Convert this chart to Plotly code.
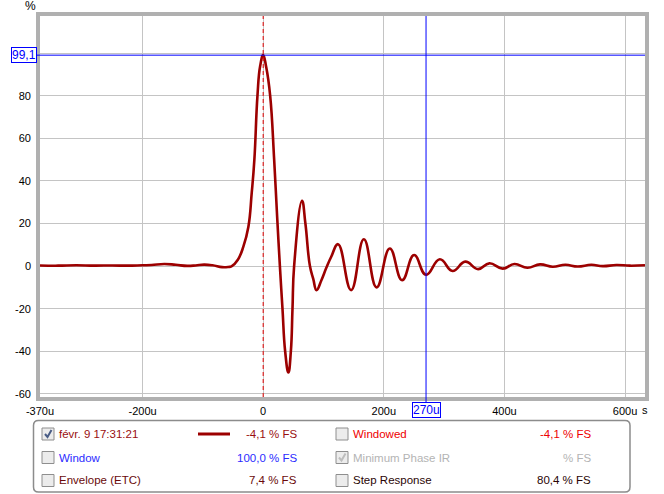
import plotly.graph_objects as go

# ---------------- data ----------------
time_us = [-370, -340, -310, -280, -250, -225, -200, -185, -164, -145, -126, -112, -98, -84,
           -68, -58, -52, -42, -33, -24.5, -19, -14.6, -9.5, -5, 0, 5, 11.6, 18.2, 23, 27.7,
           32, 36.4, 41.8, 45.9, 48.6, 51.3, 64.4, 70, 77.5, 83, 88.4, 96.7, 104.7,
           113, 124.2, 145.8, 166.9, 188, 209.9, 230.3,
           250.2, 270, 292.8, 314, 335, 356.3, 375, 397, 416.5, 438, 459, 480,
           501, 521.5, 544, 563, 585.6, 608, 633]
amp_pct = [0.3, 0.2, 0.4, 0.2, 0.3, 0.2, 0.4, 0.5, 1.0, 0.6, 0.1, 0.3, 0.7, 0.4,
           -0.5, -0.4, 0.0, 3, 9, 18.5, 34.4, 50, 80, 94, 99.1, 93.5, 80, 50, 24, 0,
           -20, -40, -50, -40, -20, 0, 30.7, 20, 0, -6, -11.3, -6.5, -0.8,
           4.5, 10.3, -11.3, 12.6, -10, 8.3, -6.6,
           5.2, -4.1, 3.2, -2.3, 2.1, -1.4, 1.3, -1.2, 1.0, -0.8, 0.8, -0.3,
           0.6, -0.2, 0.6, 0.0, 0.5, 0.2, 0.4]

x_range = [-370, 633]
y_range = [-61.5, 117.5]
x_tick_vals = [-370, -200, 0, 200, 400, 600]
x_tick_text = ["-370u", "-200u", "0", "200u", "400u", "600u"]
y_tick_vals = [-60, -40, -20, 0, 20, 40, 60, 80, 100]
y_tick_text = ["-60", "-40", "-20", "0", "20", "40", "60", "80", ""]

cursor_x = 270
cursor_x_text = "270u"
cursor_y = 99.1
cursor_y_text = "99,1"

# legend panel content (col, row)
legend_labels = [["févr. 9 17:31:21", "Window", "Envelope (ETC)"],
                 ["Windowed", "Minimum Phase IR", "Step Response"]]
legend_values = [["-4,1 % FS", "100,0 % FS", "7,4 % FS"],
                 ["-4,1 % FS", "% FS", "80,4 % FS"]]
legend_colors = [["#9a0f0f", "#2b2bff", "#6a0a0a"],
                 ["#ee0000", "#b4b4b4", "#2a0505"]]
legend_checked = [[True, False, False], [False, True, False]]
legend_check_colors = [["#4a5d86", None, None], [None, "#bdbdbd", None]]

CURVE = "#9c0000"
FONT = "Liberation Sans, Arial, sans-serif"

# ---------------- geometry helpers (pixels -> paper) ----------------
L, R, T, B = 40, 645, 16, 397
W, H = R - L, B - T


def PX(x):
    return (x - L) / W


def PY(y):
    return (B - y) / H


fig = go.Figure()
fig.add_trace(go.Scatter(x=time_us, y=amp_pct, mode="lines",
                         line=dict(color=CURVE, width=2.6, shape="spline", smoothing=1.3),
                         hoverinfo="skip", showlegend=False))

shapes = []
annotations = []

# frame around plot
shapes.append(dict(type="rect", xref="paper", yref="paper",
                   x0=PX(L - 2), x1=PX(R + 2), y0=PY(B + 2), y1=PY(T - 2),
                   line=dict(color="#b0b0b0", width=4), layer="above"))
# dashed zero-time line
shapes.append(dict(type="line", xref="x", yref="paper", x0=0, x1=0, y0=0, y1=1,
                   line=dict(color="#e00000", width=1, dash="4px,3px")))
# cursors
shapes.append(dict(type="line", xref="paper", yref="y", x0=PX(37), x1=1,
                   y0=cursor_y, y1=cursor_y, line=dict(color="#0000ff", width=1)))
shapes.append(dict(type="line", xref="x", yref="paper", x0=cursor_x, x1=cursor_x,
                   y0=PY(403), y1=1, line=dict(color="#0000ff", width=1)))

annotations.append(dict(xref="paper", yref="y", x=PX(37), y=cursor_y, text=cursor_y_text,
                        xanchor="right", yanchor="middle", showarrow=False,
                        font=dict(family=FONT, size=12, color="#0000ff"),
                        bgcolor="white", bordercolor="#0000ff", borderwidth=1, borderpad=0))
annotations.append(dict(xref="x", yref="paper", x=cursor_x, y=PY(402), text=cursor_x_text,
                        xanchor="center", yanchor="top", showarrow=False,
                        font=dict(family=FONT, size=12, color="#0000ff"),
                        bgcolor="white", bordercolor="#0000ff", borderwidth=1, borderpad=0))
annotations.append(dict(xref="paper", yref="paper", x=PX(30), y=PY(6), text="%",
                        xanchor="center", yanchor="middle", showarrow=False,
                        font=dict(family=FONT, size=12, color="black")))
annotations.append(dict(xref="paper", yref="paper", x=PX(645), y=PY(410), text="s",
                        xanchor="center", yanchor="middle", showarrow=False,
                        font=dict(family=FONT, size=11, color="black")))

# legend panel (rounded rectangle)
bx0, bx1, by0, by1, r = 33.5, 630, 420.5, 492, 5
p = (f"M {PX(bx0 + r)},{PY(by0)} L {PX(bx1 - r)},{PY(by0)} "
     f"Q {PX(bx1)},{PY(by0)} {PX(bx1)},{PY(by0 + r)} L {PX(bx1)},{PY(by1 - r)} "
     f"Q {PX(bx1)},{PY(by1)} {PX(bx1 - r)},{PY(by1)} L {PX(bx0 + r)},{PY(by1)} "
     f"Q {PX(bx0)},{PY(by1)} {PX(bx0)},{PY(by1 - r)} L {PX(bx0)},{PY(by0 + r)} "
     f"Q {PX(bx0)},{PY(by0)} {PX(bx0 + r)},{PY(by0)} Z")
shapes.append(dict(type="path", xref="paper", yref="paper", path=p,
                   line=dict(color="#8c8c8c", width=1.5), fillcolor="white"))

row_y = [434, 457.5, 480.5]
col_box_x = [42, 336]
col_text_x = [57, 351]
col_val_x = [299, 593]
for c in range(2):
    for rr in range(3):
        cy = row_y[rr]
        x0 = col_box_x[c]
        shapes.append(dict(type="rect", xref="paper", yref="paper",
                           x0=PX(x0), x1=PX(x0 + 12), y0=PY(cy + 6), y1=PY(cy - 6),
                           line=dict(color="#8e8e8e", width=1), fillcolor="#ececec"))
        if legend_checked[c][rr]:
            ck = legend_check_colors[c][rr]
            path = (f"M {PX(x0 + 3)},{PY(cy)} L {PX(x0 + 5.5)},{PY(cy + 3)} "
                    f"L {PX(x0 + 9.5)},{PY(cy - 4)}")
            shapes.append(dict(type="path", xref="paper", yref="paper", path=path,
                               line=dict(color=ck, width=2)))
        annotations.append(dict(xref="paper", yref="paper", x=PX(col_text_x[c]), y=PY(cy),
                                text=legend_labels[c][rr], xanchor="left", yanchor="middle",
                                showarrow=False,
                                font=dict(family=FONT, size=11.5, color=legend_colors[c][rr])))
        annotations.append(dict(xref="paper", yref="paper", x=PX(col_val_x[c]), y=PY(cy),
                                text=legend_values[c][rr], xanchor="right", yanchor="middle",
                                showarrow=False,
                                font=dict(family=FONT, size=11.5, color=legend_colors[c][rr])))
# sample line for first series
shapes.append(dict(type="line", xref="paper", yref="paper", x0=PX(198), x1=PX(230),
                   y0=PY(row_y[0]), y1=PY(row_y[0]), line=dict(color=CURVE, width=3)))

fig.update_layout(
    width=664, height=494, autosize=False,
    margin=dict(l=L, r=664 - R, t=T, b=494 - B, pad=0),
    paper_bgcolor="white", plot_bgcolor="white",
    showlegend=False,
    font=dict(family=FONT, size=11, color="black"),
    shapes=shapes, annotations=annotations,
    xaxis=dict(range=x_range, tickvals=x_tick_vals, ticktext=x_tick_text,
               showgrid=True, gridcolor="#c4c4c4", gridwidth=1, zeroline=False,
               showline=False, ticks="", ticklabelstandoff=6,
               tickfont=dict(family=FONT, size=11, color="black"), fixedrange=True),
    yaxis=dict(range=y_range, tickvals=y_tick_vals, ticktext=y_tick_text,
               showgrid=True, gridcolor="#c4c4c4", gridwidth=1, zeroline=False,
               showline=False, ticks="", ticklabelstandoff=8,
               tickfont=dict(family=FONT, size=11, color="black"), fixedrange=True),
)

fig.write_html("out.html", config={"displayModeBar": False},
               post_script="document.body.style.margin='0px';document.body.style.overflow='hidden';")
